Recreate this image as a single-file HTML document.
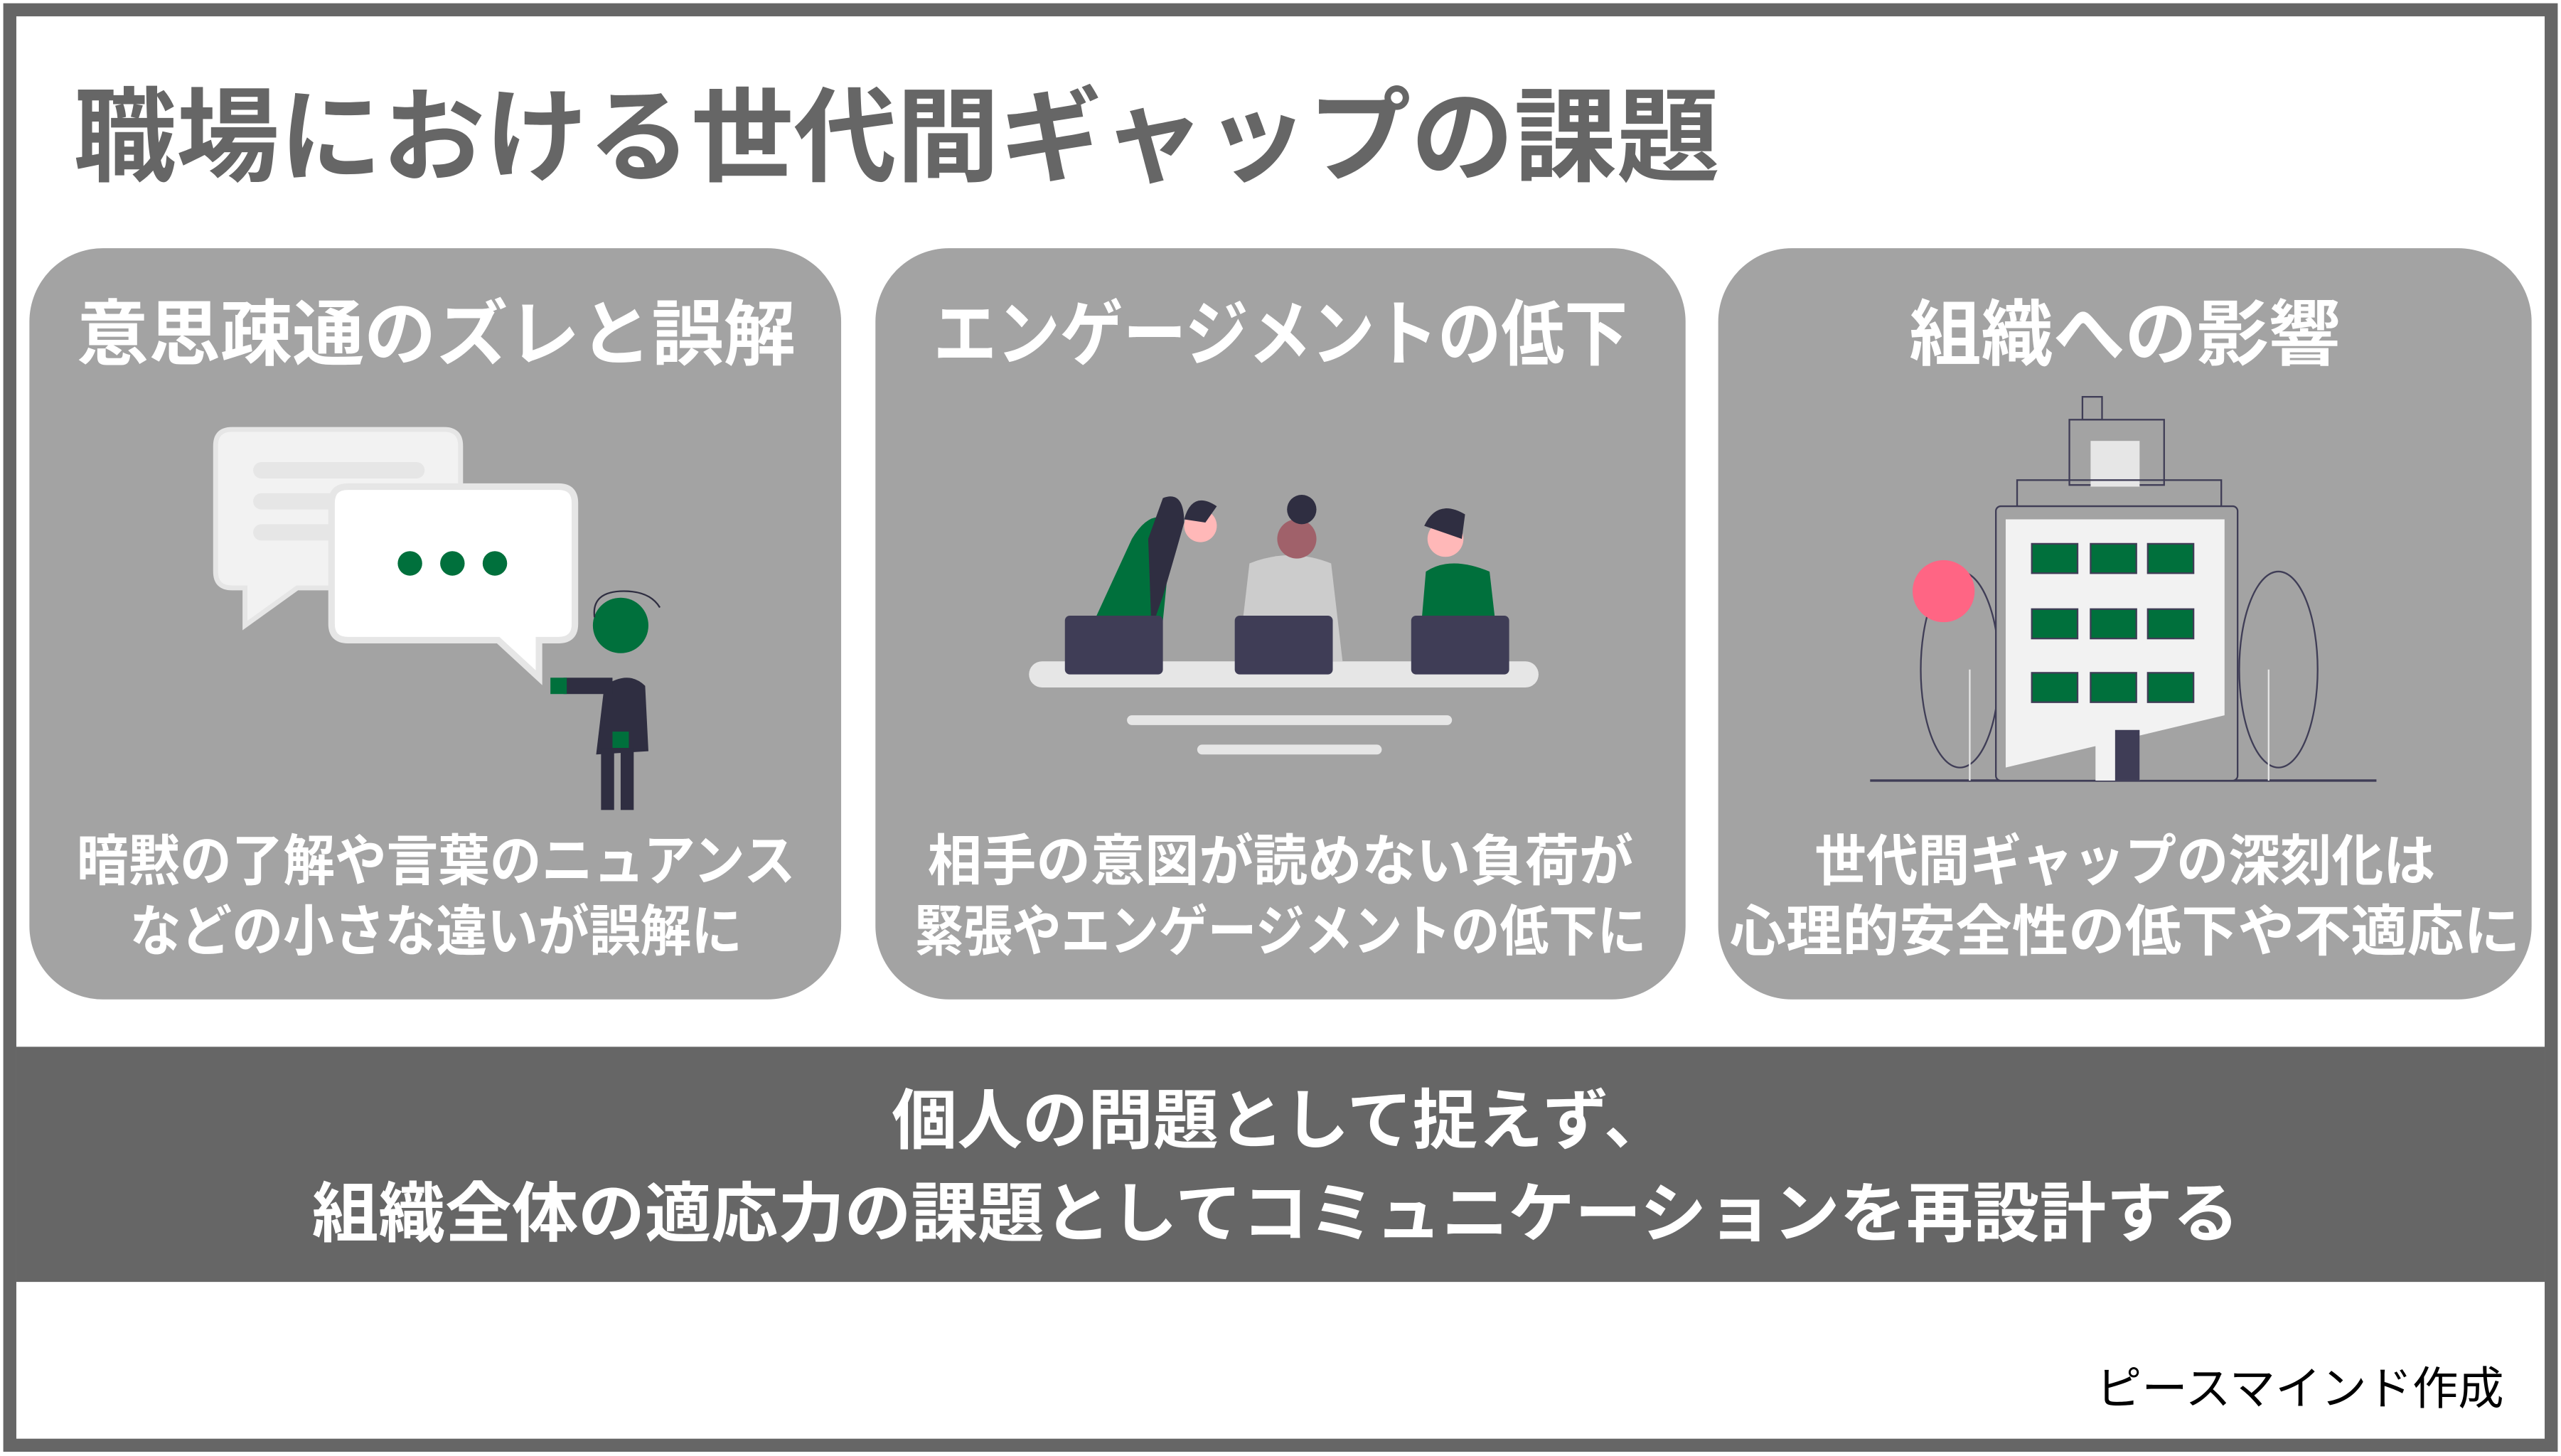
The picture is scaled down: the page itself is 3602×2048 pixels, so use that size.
<!DOCTYPE html>
<html><head><meta charset="utf-8"><style>
html,body{margin:0;padding:0;background:#fff;}
svg{display:block;}
text{font-family:"Liberation Sans","Noto Sans CJK JP",sans-serif;}
</style></head><body>
<svg width="3602" height="2048" viewBox="0 0 1568 891.6" preserveAspectRatio="none" xmlns="http://www.w3.org/2000/svg">
<rect x="0" y="0" width="1568" height="891.6" fill="#fff"/>
<rect x="6" y="6" width="1556" height="879" fill="none" stroke="#666" stroke-width="8"/>
<text x="45" y="106" font-size="63" font-weight="bold" fill="#666">職場における世代間ギャップの課題</text>

<rect x="18" y="152" width="497" height="460" rx="45" fill="#a3a3a3"/>
<rect x="536" y="152" width="496" height="460" rx="45" fill="#a3a3a3"/>
<rect x="1052" y="152" width="498" height="460" rx="45" fill="#a3a3a3"/>

<g font-size="44" font-weight="bold" fill="#fff" text-anchor="middle">
<text x="267" y="220">意思疎通のズレと誤解</text>
<text x="784" y="220" textLength="425" lengthAdjust="spacingAndGlyphs">エンゲージメントの低下</text>
<text x="1301" y="220">組織への影響</text>
</g>
<g font-size="34" font-weight="bold" fill="#fff" text-anchor="middle">
<text x="267" y="539" textLength="440" lengthAdjust="spacingAndGlyphs">暗黙の了解や言葉のニュアンス</text>
<text x="267" y="582" textLength="375" lengthAdjust="spacingAndGlyphs">などの小さな違いが誤解に</text>
<text x="784" y="539" textLength="432" lengthAdjust="spacingAndGlyphs">相手の意図が読めない負荷が</text>
<text x="784" y="582" textLength="448" lengthAdjust="spacingAndGlyphs">緊張やエンゲージメントの低下に</text>
<text x="1301" y="539" textLength="380" lengthAdjust="spacingAndGlyphs">世代間ギャップの深刻化は</text>
<text x="1301" y="582" textLength="484" lengthAdjust="spacingAndGlyphs">心理的安全性の低下や不適応に</text>
</g>

<!-- card1 illustration -->
<path d="M142 263 H272 Q282 263 282 273 V350 Q282 360 272 360 H182 L150 383 V360 H142 Q132 360 132 350 V273 Q132 263 142 263Z" fill="#f2f2f2" stroke="#e6e6e6" stroke-width="3"/>
<rect x="155" y="283" width="105" height="10" rx="5" fill="#e6e6e6"/>
<rect x="155" y="302" width="105" height="10" rx="5" fill="#e6e6e6"/>
<rect x="155" y="321" width="105" height="10" rx="5" fill="#e6e6e6"/>
<path d="M213 298 H342 Q352 298 352 308 V382 Q352 392 342 392 H330 V415 L305 392 H213 Q203 392 203 382 V308 Q203 298 213 298Z" fill="#fff" stroke="#e6e6e6" stroke-width="4"/>
<circle cx="251" cy="345" r="7.5" fill="#00703c"/>
<circle cx="277" cy="345" r="7.5" fill="#00703c"/>
<circle cx="303" cy="345" r="7.5" fill="#00703c"/>
<circle cx="380" cy="383" r="17" fill="#00703c"/>
<path d="M364 378 Q362 362 382 362 Q398 362 404 372" fill="none" stroke="#2f2e41" stroke-width="1"/>
<path d="M370 420 Q385 410 395 420 L397 460 L365 462 Z" fill="#2f2e41"/>
<rect x="345" y="415" width="30" height="10" fill="#2f2e41"/>
<rect x="337" y="415" width="10" height="10" fill="#00703c"/>
<rect x="368" y="458" width="8" height="38" fill="#2f2e41"/>
<rect x="380" y="458" width="8" height="38" fill="#2f2e41"/>
<rect x="375" y="448" width="10" height="10" fill="#00703c"/>

<!-- card2 illustration -->
<rect x="630" y="405" width="312" height="16" rx="8" fill="#e6e6e6"/>
<rect x="690" y="438" width="199" height="6" rx="3" fill="#e6e6e6"/>
<rect x="733" y="456" width="113" height="6" rx="3" fill="#e6e6e6"/>
<path d="M670 380 L693 330 Q705 310 718 320 L712 380Z" fill="#00703c"/>
<path d="M712 305 Q725 300 725 320 Q718 345 712 365 L705 385 L703 330Z" fill="#2f2e41"/>
<circle cx="735" cy="322" r="10" fill="#ffb8b8"/>
<path d="M725 318 Q730 300 745 310 L738 320Z" fill="#2f2e41"/>
<path d="M765 345 Q790 335 815 345 L822 405 L758 405Z" fill="#ccc"/>
<circle cx="794" cy="330" r="12" fill="#a0616a"/>
<circle cx="797" cy="312" r="9" fill="#2f2e41"/>
<path d="M873 350 Q888 340 912 350 L916 385 L870 385Z" fill="#00703c"/>
<circle cx="885" cy="330" r="11" fill="#ffb8b8"/>
<path d="M872 322 Q880 305 897 315 L895 330 Z" fill="#2f2e41"/>
<rect x="652" y="377" width="60" height="36" rx="3" fill="#3f3d56"/>
<rect x="756" y="377" width="60" height="36" rx="3" fill="#3f3d56"/>
<rect x="864" y="377" width="60" height="36" rx="3" fill="#3f3d56"/>

<!-- card3 illustration -->
<line x1="1145" y1="478" x2="1455" y2="478" stroke="#3f3d56" stroke-width="1.5"/>
<ellipse cx="1200" cy="410" rx="24" ry="60" fill="none" stroke="#3f3d56" stroke-width="1"/>
<ellipse cx="1395" cy="410" rx="24" ry="60" fill="none" stroke="#3f3d56" stroke-width="1"/>
<line x1="1206" y1="410" x2="1206" y2="478" stroke="#e6e6e6"/>
<line x1="1389" y1="410" x2="1389" y2="478" stroke="#e6e6e6"/>
<circle cx="1190" cy="362" r="19" fill="#ff6584"/>
<rect x="1275" y="243" width="12" height="14" fill="none" stroke="#3f3d56"/>
<rect x="1267" y="257" width="58" height="40" fill="#a3a3a3" stroke="#3f3d56"/>
<rect x="1280" y="270" width="30" height="28" fill="#e6e6e6"/>
<rect x="1235" y="294" width="125" height="16" fill="none" stroke="#3f3d56"/>
<rect x="1222" y="310" width="148" height="168" rx="3" fill="#a3a3a3" stroke="#3f3d56"/>
<path d="M1228 318 H1362 V438 L1228 470Z" fill="#f2f2f2"/>
<g fill="#00703c" stroke="#3f3d56" stroke-width="1">
<rect x="1244" y="333" width="28" height="18"/><rect x="1280" y="333" width="28" height="18"/><rect x="1315" y="333" width="28" height="18"/>
<rect x="1244" y="373" width="28" height="18"/><rect x="1280" y="373" width="28" height="18"/><rect x="1315" y="373" width="28" height="18"/>
<rect x="1244" y="412" width="28" height="18"/><rect x="1280" y="412" width="28" height="18"/><rect x="1315" y="412" width="28" height="18"/>
</g>
<rect x="1283" y="447" width="27" height="31" fill="#f2f2f2"/>
<rect x="1295" y="447" width="15" height="31" fill="#3f3d56"/>

<!-- band -->
<rect x="10" y="641" width="1548" height="144" fill="#666"/>
<g font-size="40" font-weight="bold" fill="#fff" text-anchor="middle">
<text x="784" y="700">個人の問題として捉えず、</text>
<text x="781" y="757" textLength="1180" lengthAdjust="spacingAndGlyphs">組織全体の適応力の課題としてコミュニケーションを再設計する</text>
</g>
<text x="1533" y="860" font-size="28" fill="#000" text-anchor="end">ピースマインド作成</text>
</svg>
</body></html>
